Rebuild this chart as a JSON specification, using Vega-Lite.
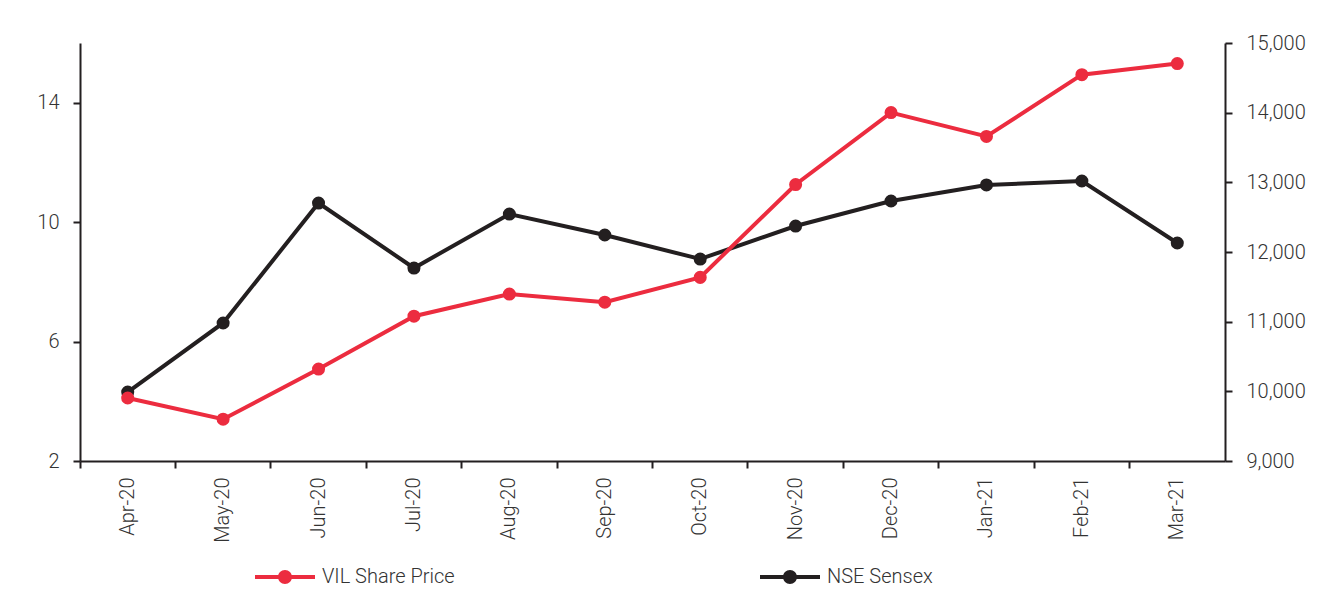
{
  "$schema": "https://vega.github.io/schema/vega-lite/v6.json",
  "width": 1145,
  "height": 418,
  "autosize": {"type": "none"},
  "padding": {"left": 80, "top": 43, "right": 107, "bottom": 135},
  "background": "white",
  "config": {
    "view": {"stroke": null},
    "font": "Roboto",
    "axis": {"labelFont": "Roboto", "labelFontWeight": 300, "labelFontSize": 20, "labelColor": "#333333", "domainColor": "#231f20", "tickColor": "#231f20", "domainWidth": 2, "tickWidth": 2, "grid": false, "title": null},
    "legend": {"labelFont": "Roboto", "labelFontWeight": 300, "labelFontSize": 20, "labelColor": "#333333"}
  },
  "data": {
    "values": [
      {"month": "Apr-20", "series": "VIL Share Price", "value": 4.11},
      {"month": "May-20", "series": "VIL Share Price", "value": 3.40},
      {"month": "Jun-20", "series": "VIL Share Price", "value": 5.08},
      {"month": "Jul-20", "series": "VIL Share Price", "value": 6.85},
      {"month": "Aug-20", "series": "VIL Share Price", "value": 7.59},
      {"month": "Sep-20", "series": "VIL Share Price", "value": 7.32},
      {"month": "Oct-20", "series": "VIL Share Price", "value": 8.15},
      {"month": "Nov-20", "series": "VIL Share Price", "value": 11.26},
      {"month": "Dec-20", "series": "VIL Share Price", "value": 13.67},
      {"month": "Jan-21", "series": "VIL Share Price", "value": 12.87},
      {"month": "Feb-21", "series": "VIL Share Price", "value": 14.94},
      {"month": "Mar-21", "series": "VIL Share Price", "value": 15.31},
      {"month": "Apr-20", "series": "NSE Sensex", "value": 9990},
      {"month": "May-20", "series": "NSE Sensex", "value": 10981},
      {"month": "Jun-20", "series": "NSE Sensex", "value": 12703},
      {"month": "Jul-20", "series": "NSE Sensex", "value": 11770},
      {"month": "Aug-20", "series": "NSE Sensex", "value": 12545},
      {"month": "Sep-20", "series": "NSE Sensex", "value": 12244},
      {"month": "Oct-20", "series": "NSE Sensex", "value": 11899},
      {"month": "Nov-20", "series": "NSE Sensex", "value": 12373},
      {"month": "Dec-20", "series": "NSE Sensex", "value": 12732},
      {"month": "Jan-21", "series": "NSE Sensex", "value": 12962},
      {"month": "Feb-21", "series": "NSE Sensex", "value": 13019},
      {"month": "Mar-21", "series": "NSE Sensex", "value": 12129}
    ]
  },
  "encoding": {
    "x": {"field": "month", "type": "ordinal", "sort": null,
      "scale": {"type": "band", "paddingInner": 0, "paddingOuter": 0}},
    "color": {"field": "series", "type": "nominal",
      "scale": {"domain": ["VIL Share Price", "NSE Sensex"], "range": ["#ec2c3f", "#231f20"]},
      "legend": {
        "orient": "none", "legendX": 175, "legendY": 504, "direction": "horizontal",
        "title": null, "symbolType": "M-1,-0.067H1V0.067H-1Z M0.233,0A0.233,0.233 0 1,1 -0.233,0A0.233,0.233 0 1,1 0.233,0Z",
        "symbolSize": 3600, "labelOffset": 7, "columnPadding": 305,
        "encode": {"symbols": {"update": {"fill": {"scale": "color", "field": "value"}, "strokeWidth": {"value": 0}, "fillOpacity": {"value": 1}}}}
      }
    }
  },
  "layer": [
    {
      "transform": [{"filter": "datum.series === 'NSE Sensex'"}],
      "mark": {"type": "line", "strokeWidth": 4, "point": {"filled": true, "size": 170, "opacity": 1}},
      "encoding": {
        "x": {"field": "month", "type": "ordinal", "sort": null,
          "axis": {"orient": "bottom", "bandPosition": 0, "labels": false, "ticks": true, "tickSize": 7, "domain": true}},
        "y": {"field": "value", "type": "quantitative",
          "scale": {"domain": [9000, 15000], "nice": false, "zero": false},
          "axis": {"orient": "right", "values": [9000, 10000, 11000, 12000, 13000, 14000, 15000], "format": ",.0f", "tickSize": 7, "labelPadding": 14}}
      }
    },
    {
      "transform": [{"filter": "datum.series === 'VIL Share Price'"}],
      "mark": {"type": "line", "strokeWidth": 4, "point": {"filled": true, "size": 170, "opacity": 1}},
      "encoding": {
        "x": {"field": "month", "type": "ordinal", "sort": null,
          "axis": {"orient": "bottom", "labels": true, "ticks": false, "domain": false, "labelAngle": -90, "labelAlign": "right", "labelBaseline": "middle", "labelPadding": 16}},
        "y": {"field": "value", "type": "quantitative",
          "scale": {"domain": [2, 16], "nice": false, "zero": false},
          "axis": {"orient": "left", "values": [2, 6, 10, 14], "tickSize": 7, "labelPadding": 14}}
      }
    }
  ],
  "resolve": {"scale": {"y": "independent"}, "axis": {"x": "independent"}}
}
